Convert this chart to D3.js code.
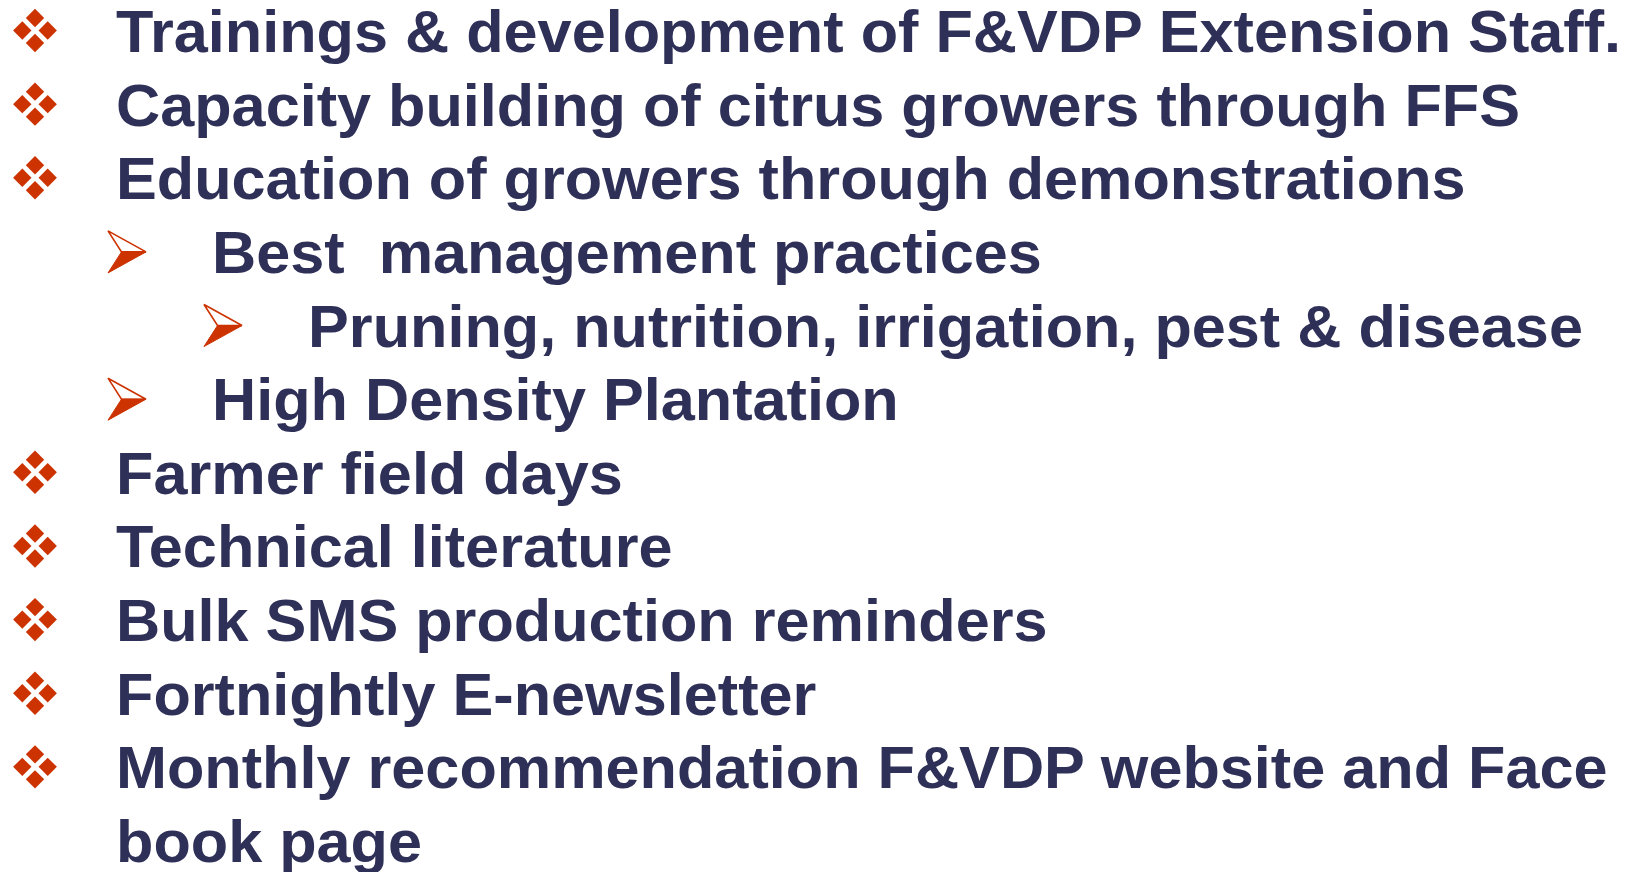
<!DOCTYPE html>
<html><head><meta charset="utf-8">
<script src="https://cdn.jsdelivr.net/npm/d3@7"></script>
<style>html,body{margin:0;padding:0;background:#fff;overflow:hidden}</style>
</head><body>
<svg id="c" width="1631" height="872"></svg>
<script>
const items = [
  "Trainings & development of F&VDP Extension Staff.",
  "Capacity building of citrus growers through FFS",
  "Education of growers through demonstrations",
  "Best  management practices",
  "Pruning, nutrition, irrigation, pest & disease",
  "High Density Plantation",
  "Farmer field days",
  "Technical literature",
  "Bulk SMS production reminders",
  "Fortnightly E-newsletter",
  "Monthly recommendation F&VDP website and Face",
  "book page"
];
const levels = [0,0,0,1,2,1,0,0,0,0,0,0];
const bulletTypes = ["diamond","diamond","diamond","arrow","arrow","arrow","diamond","diamond","diamond","diamond","diamond","none"];

const svg = d3.select("#c");
const y = d3.scaleLinear().domain([0, items.length-1]).range([52, 862]);
const textX = d3.scaleOrdinal().domain([0,1,2]).range([116, 212, 308]);
const bulletX = d3.scaleOrdinal().domain([0,1,2]).range([13, 108, 204]);
const textColor = "#2e3057", red = "#cc3300";
const sx = 1.02;

const rows = svg.selectAll("g.row").data(items.map((t,i)=>({t, i, lv: levels[i], b: bulletTypes[i]})))
  .join("g").attr("class","row");

rows.append("text")
  .attr("transform", d => `translate(${textX(d.lv)},${y(d.i)}) scale(${sx},1)`)
  .attr("fill", textColor)
  .style("font-family", "'Liberation Sans', Arial, sans-serif")
  .style("font-weight", "bold")
  .style("font-size", "60px")
  .style("white-space", "pre")
  .attr("xml:space", "preserve")
  .text(d => d.t);

// diamond bullets (four small diamonds)
const dia = rows.filter(d => d.b === "diamond");
const s = 9.2;
const offs = [[0,-12.5],[-12.7,0],[12.7,0],[0,12.5]];
dia.each(function(d){
  const cx = bulletX(d.lv) + 22, cy = y(d.i) - 21.5;
  d3.select(this).selectAll("path.dm").data(offs).join("path").attr("class","dm")
    .attr("d", o => `M${cx+o[0]},${cy+o[1]-s}L${cx+o[0]+s},${cy+o[1]}L${cx+o[0]},${cy+o[1]+s}L${cx+o[0]-s},${cy+o[1]}Z`)
    .attr("fill", red);
});

// arrow bullets
const arr = rows.filter(d => d.b === "arrow");
arr.each(function(d){
  const x0 = bulletX(d.lv), by = y(d.i);
  const top = [x0, by-42], tip = [x0+38, by-21], notch = [x0+13.5, by-21], bot = [x0, by];
  const g = d3.select(this);
  g.append("path").attr("d", `M${top}L${tip}L${notch}Z`).attr("fill","#fff").attr("stroke",red).attr("stroke-width",1.6).attr("stroke-linejoin","miter");
  g.append("path").attr("d", `M${notch}L${tip}L${bot}Z`).attr("fill",red).attr("stroke",red).attr("stroke-width",1);
});
</script>
</body></html>
